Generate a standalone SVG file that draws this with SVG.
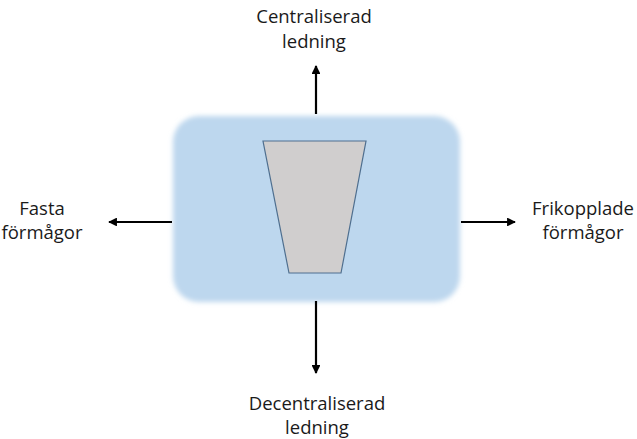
<svg xmlns="http://www.w3.org/2000/svg" width="637" height="439" viewBox="0 0 637 439">
<defs>
<filter id="soft" x="-10%" y="-10%" width="120%" height="120%"><feGaussianBlur stdDeviation="2.5"/></filter>
<marker id="ah" viewBox="0 0 10 10" refX="9" refY="5" markerWidth="4" markerHeight="4" orient="auto-start-reverse"><path d="M0,0 L10,5 L0,10 z" fill="#000"/></marker>
<style>
.lbl{font-family:"Open Sans","Liberation Sans",sans-serif;font-size:18.5px;fill:#1a1a1a;text-anchor:middle}
.arr{stroke:#000;stroke-width:2.2;fill:none;marker-end:url(#ah)}
</style>
</defs>
<rect width="637" height="439" fill="#fff"/>
<g id="box">
<rect x="173" y="116" width="287" height="186" rx="26" fill="#BDD7EE" filter="url(#soft)"/>
</g>
<g id="funnel">
<polygon points="263,141 366,141 341,273 289,273" fill="#D0CECE" stroke="#4F6F8F" stroke-width="1.2"/>
</g>
<g id="connectors">
<line class="arr" x1="316" y1="114" x2="316" y2="66"/>
<line class="arr" x1="316" y1="301" x2="316" y2="373"/>
<line class="arr" x1="172" y1="222" x2="109" y2="222"/>
<line class="arr" x1="461" y1="222" x2="515" y2="222"/>
</g>
<g id="top-label"><text class="lbl" x="314" y="23">Centraliserad</text><text class="lbl" x="314" y="48">ledning</text></g>
<g id="bottom-label"><text class="lbl" x="317" y="410">Decentraliserad</text><text class="lbl" x="317" y="434">ledning</text></g>
<g id="left-label"><text class="lbl" x="42" y="215">Fasta</text><text class="lbl" x="42" y="239">förmågor</text></g>
<g id="right-label"><text class="lbl" x="583" y="215">Frikopplade</text><text class="lbl" x="583" y="239">förmågor</text></g>
</svg>
